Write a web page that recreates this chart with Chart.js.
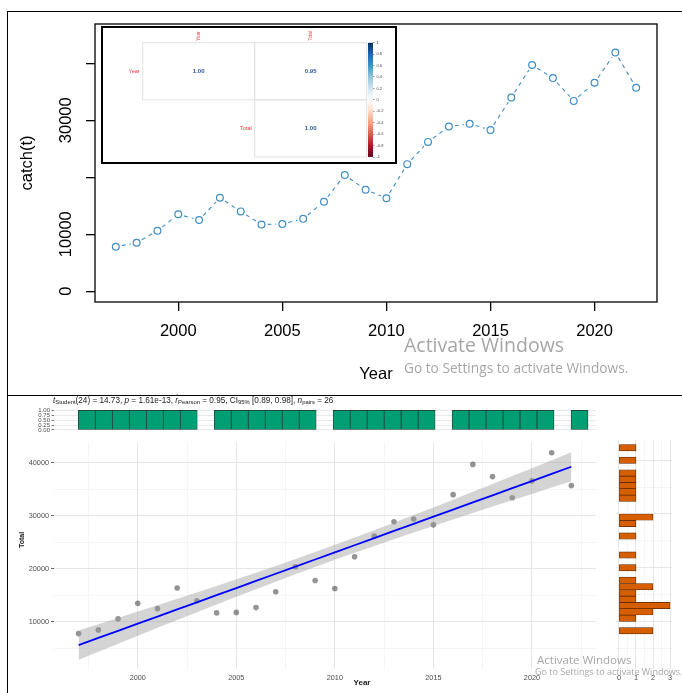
<!DOCTYPE html>
<html><head><meta charset="utf-8">
<script src="https://cdn.jsdelivr.net/npm/chart.js@4"></script>
<style>
html,body{margin:0;padding:0;background:#fff;width:682px;height:693px;overflow:hidden;position:relative;font-family:"Liberation Sans",Arial,sans-serif;}
canvas{position:absolute;}
.abs{position:absolute;}
.wm{position:absolute;white-space:nowrap;font-family:"Open Sans","Noto Sans",sans-serif;color:rgba(110,110,110,0.62);}
#sub{white-space:nowrap;color:#1a1a1a;}
#sub sub{font-size:72%;vertical-align:-1.3px;line-height:0;}
</style></head><body>
<div class="abs" style="left:7px;top:11px;width:675px;height:384px;border-left:1.6px solid #000;border-top:1.6px solid #000;"></div>
<div class="abs" style="left:7px;top:395px;width:675px;height:298px;border-left:1.6px solid #000;border-top:1.6px solid #000;"></div>
<canvas id="c1" width="682" height="395" style="left:0;top:0"></canvas>
<div id="inset" class="abs" style="left:101px;top:26px;width:292px;height:134px;border:2px solid #000;background:#fff;">
  <canvas id="c2" width="292" height="134" style="left:0;top:0"></canvas>
  <canvas id="c3" width="35" height="134" style="left:257px;top:0"></canvas>
</div>
<div class="wm" style="left:404px;top:331px;font-size:19.5px">Activate Windows</div>
<div class="wm" style="left:404px;top:358px;font-size:13.7px">Go to Settings to activate Windows.</div>
<div id="sub" class="abs" style="left:53px;top:395.5px;font-size:8.2px;line-height:10px;"><i>t</i><sub>Student</sub>(24) = 14.73, <i>p</i> = 1.61e-13, <i>r̂</i><sub>Pearson</sub> = 0.95, CI<sub>95%</sub> [0.89, 0.98], <i>n</i><sub>pairs</sub> = 26</div>
<canvas id="c5" width="605" height="36" style="left:0;top:400px"></canvas>
<canvas id="c4" width="605" height="257" style="left:0;top:436px"></canvas>
<canvas id="c6" width="77" height="257" style="left:605px;top:436px"></canvas>
<div class="wm" style="left:537px;top:652px;font-size:11.5px">Activate Windows</div>
<div class="wm" style="left:535px;top:665px;font-size:9px">Go to Settings to activate Windows.</div>
<script>
// ---------------- data ----------------
const years = [1997,1998,1999,2000,2001,2002,2003,2004,2005,2006,2007,2008,2009,2010,2011,2012,2013,2014,2015,2016,2017,2018,2019,2020,2021,2022];
const catchT = [7800,8500,10600,13500,12500,16400,14000,11700,11800,12700,15700,20400,17800,16300,22300,26200,28900,29400,28300,34000,39700,37400,33400,36600,41900,35700];
const topXTicks = [2000,2005,2010,2015,2020];
const topYTicks = [0,10000,20000,30000,40000];
const topYLabels = ['0','10000','','30000',''];
const corrVars = ['Year','Total'];
const corrYear = [1.00,0.95];
const corrTotal = [0.95,1.00];
const cbTicks = [1,0.8,0.6,0.4,0.2,0,-0.2,-0.4,-0.6,-0.8,-1];
const histYTicks = [0,0.25,0.5,0.75,1];
const sideXTicks = [0,0.5,1,1.5,2,2.5,3];
const nBins = 30;
const tCrit = 2.0639; // qt(0.975, 24)

// ---------------- derived ----------------
const n = years.length;
const mx = years.reduce((a,b)=>a+b,0)/n;
const my = catchT.reduce((a,b)=>a+b,0)/n;
let sxx=0, sxy=0;
for(let i=0;i<n;i++){ sxx+=(years[i]-mx)**2; sxy+=(years[i]-mx)*(catchT[i]-my); }
const slope = sxy/sxx, icpt = my - slope*mx;
let sse=0; for(let i=0;i<n;i++){ sse+=(catchT[i]-(icpt+slope*years[i]))**2; }
const sres = Math.sqrt(sse/(n-2));
const fit = years.map(x=>({x, y: icpt+slope*x}));
const hw = years.map(x=> tCrit*sres*Math.sqrt(1/n + (x-mx)**2/sxx));
const lo = years.map((x,i)=>({x, y: fit[i].y - hw[i]}));
const hi = years.map((x,i)=>({x, y: fit[i].y + hw[i]}));

function ggBins(vals, bins){
  const mn=Math.min(...vals), mxv=Math.max(...vals);
  const w=(mxv-mn)/(bins-1), b=w/2;
  const origin = b + Math.floor((mn-b)/w)*w;
  const counts = new Array(bins).fill(0);
  vals.forEach(v=>{ let k=Math.ceil((v-origin)/w)-1; if(k<0)k=0; if(k>=bins)k=bins-1; counts[k]++; });
  return counts.map((c,k)=>({c, mid: origin+(k+0.5)*w}));
}
const xHist = ggBins(years, nBins);
const yHist = ggBins(catchT, nBins);

Chart.defaults.font.family = "'Liberation Sans', Arial, sans-serif";
Chart.defaults.animation = false;
Chart.defaults.plugins.legend.display = false;
Chart.defaults.plugins.tooltip.enabled = false;
const base = {responsive:false, devicePixelRatio:1, animation:false, events:[]};
const setTicks = arr => (s => { s.ticks = arr.map(v=>({value:v})); });

// ---------------- top chart (R base style) ----------------
const ptCol = '#3d8ec4';
new Chart(document.getElementById('c1'), {
  type:'scatter',
  data:{datasets:[
    {data: years.map((x,i)=>({x,y:catchT[i]})), showLine:true, borderColor:ptCol, borderWidth:1.1, borderDash:[4,4], pointRadius:0, order:3,
     segment:{borderDashOffset: c => 2 + 8*c.p0DataIndex}},
    {data: years.map((x,i)=>({x,y:catchT[i]})), showLine:false, pointRadius:6, pointBackgroundColor:'#fff', pointBorderWidth:0, order:2},
    {data: years.map((x,i)=>({x,y:catchT[i]})), showLine:false, pointRadius:3.4, pointBackgroundColor:'rgba(0,0,0,0)', pointBorderColor:ptCol, pointBorderWidth:1.2, order:1}
  ]},
  options:Object.assign({}, base, {
    layout:{padding:{top:24,right:25,bottom:0,left:0}},
    scales:{
      x:{type:'linear', min:1996, max:2023, afterBuildTicks:setTicks(topXTicks),
         afterFit:s=>{s.height=93;},
         grid:{drawOnChartArea:false, drawTicks:true, tickLength:9, color:'#000', lineWidth:1.3},
         border:{display:false},
         ticks:{font:{size:16.5}, color:'#000', padding:11, maxRotation:0, autoSkip:false, callback:v=>String(v)},
         title:{display:true, text:'Year', font:{size:16.5}, color:'#000', padding:{top:0,bottom:11}}},
      y:{type:'linear', min:-1900, max:46900, afterBuildTicks:setTicks(topYTicks),
         afterFit:s=>{s.width=95;},
         grid:{drawOnChartArea:false, drawTicks:true, tickLength:9, color:'#000', lineWidth:1.3},
         border:{display:false},
         ticks:{callback:()=>'' , font:{size:1}},
         title:{display:true, text:'catch(t)', font:{size:16.5}, color:'#000', padding:{top:18,bottom:0}}}
    }
  }),
  plugins:[{id:'rbox', afterDraw(chart){
    const {ctx, chartArea:a, scales:{y}} = chart;
    ctx.save();
    ctx.strokeStyle='#000'; ctx.lineWidth=1.3;
    ctx.strokeRect(a.left, a.top, a.right-a.left, a.bottom-a.top);
    ctx.fillStyle='#000'; ctx.font="16.5px 'Liberation Sans', Arial, sans-serif";
    ctx.textAlign='center'; ctx.textBaseline='middle';
    topYTicks.forEach((v,i)=>{ if(!topYLabels[i]) return;
      ctx.save(); ctx.translate(66, y.getPixelForValue(v)); ctx.rotate(-Math.PI/2);
      ctx.fillText(topYLabels[i],0,0); ctx.restore(); });
    ctx.restore();
  }}]
});

// ---------------- inset correlation matrix ----------------
const corrM = [corrYear, corrTotal];
const cells = [];
for(let i=0;i<corrVars.length;i++) for(let j=i;j<corrVars.length;j++) cells.push({x:j, y:i, v:corrM[i][j]});
new Chart(document.getElementById('c2'), {
  type:'scatter',
  data:{datasets:[{data:cells, pointRadius:0}]},
  options:Object.assign({}, base, {
    layout:{padding:{left:39.7,right:28.3,top:14.7,bottom:5}},
    scales:{x:{display:false,min:-0.5,max:1.5}, y:{display:false,min:-0.5,max:1.5,reverse:true}}
  }),
  plugins:[{id:'corr', afterDraw(chart){
    const {ctx, scales:{x,y}} = chart;
    ctx.save();
    ctx.strokeStyle='#e2e2e2'; ctx.lineWidth=1;
    cells.forEach(c=>{
      const l=x.getPixelForValue(c.x-0.5), r=x.getPixelForValue(c.x+0.5);
      const t=y.getPixelForValue(c.y-0.5), b=y.getPixelForValue(c.y+0.5);
      ctx.strokeRect(l,t,r-l,b-t);
    });
    ctx.textBaseline='middle'; ctx.textAlign='center';
    ctx.fillStyle='#2b5597'; ctx.font="bold 6px 'Liberation Sans', Arial, sans-serif";
    cells.forEach(c=> ctx.fillText(c.v.toFixed(2), x.getPixelForValue(c.x), y.getPixelForValue(c.y)));
    ctx.fillStyle='#ec3b3b'; ctx.font="5.5px 'Liberation Sans', Arial, sans-serif"; ctx.textAlign='right';
    corrVars.forEach((nm,i)=> ctx.fillText(nm, x.getPixelForValue(i-0.5)-3, y.getPixelForValue(i)));
    ctx.font="4.5px 'Liberation Sans', Arial, sans-serif"; ctx.textAlign='left';
    corrVars.forEach((nm,j)=>{ ctx.save(); ctx.translate(x.getPixelForValue(j), y.getPixelForValue(-0.5)-2);
      ctx.rotate(-Math.PI/2); ctx.fillText(nm,0,0); ctx.restore(); });
    ctx.restore();
  }}]
});
const cbColors = ['#053061','#2166AC','#4393C3','#92C5DE','#D1E5F0','#FFFFFF','#FDDBC7','#F4A582','#D6604D','#B2182B','#67001F'];
new Chart(document.getElementById('c3'), {
  type:'bar',
  data:{labels:[''], datasets:[{data:[[-1,1]], barPercentage:1, categoryPercentage:1, borderWidth:0,
    backgroundColor:c=>{ const a=c.chart.chartArea; if(!a) return '#fff';
      const g=c.chart.ctx.createLinearGradient(0,a.top,0,a.bottom);
      cbColors.forEach((col,k)=>g.addColorStop(k/(cbColors.length-1), col)); return g; }}]},
  options:Object.assign({}, base, {
    layout:{padding:{left:8,right:0,top:14.7,bottom:5}},
    scales:{x:{display:false},
      y:{position:'right', min:-1, max:1, afterBuildTicks:setTicks(cbTicks), afterFit:s=>{s.width=22;},
         ticks:{font:{size:4}, color:'#444', padding:2, callback:v=>String(Math.round(v*10)/10)},
         grid:{drawOnChartArea:false, drawTicks:true, tickLength:1.5, color:'#999'}, border:{display:false}}}
  })
});

// ---------------- bottom scatter ----------------
const gMaj='#e3e3e3', gMin='#efefef';
const gridCol = (step)=> c => (c.tick && Math.abs(c.tick.value % step) < 1e-6) ? gMaj : gMin;
const gridW = (step)=> c => (c.tick && Math.abs(c.tick.value % step) < 1e-6) ? 0.9 : 0.6;
const bxTicks = []; for(let v=1997.5; v<=2022.5; v+=2.5) bxTicks.push(v);
const byTicks = []; for(let v=5000; v<=40000; v+=5000) byTicks.push(v);
const tickFont = {size:7.3};
new Chart(document.getElementById('c4'), {
  type:'scatter',
  data:{datasets:[
    {data: years.map((x,i)=>({x,y:catchT[i]})), pointRadius:2.8, pointBackgroundColor:'rgba(0,0,0,0.42)', pointBorderWidth:0, order:4},
    {data: lo, showLine:true, borderWidth:0, pointRadius:0, order:3},
    {data: hi, showLine:true, borderWidth:0, pointRadius:0, fill:1, backgroundColor:'rgba(153,153,153,0.42)', order:2},
    {data: fit, showLine:true, borderColor:'#0000ff', borderWidth:1.8, pointRadius:0, order:1}
  ]},
  options:Object.assign({}, base, {
    layout:{padding:{top:3.5,right:9,bottom:0,left:0}},
    scales:{
      x:{type:'linear', min:1995.75, max:2023.25, afterBuildTicks:setTicks(bxTicks), afterFit:s=>{s.height=23.6;},
         grid:{color:gridCol(5), lineWidth:gridW(5), drawTicks:false}, border:{display:false},
         ticks:{font:tickFont, color:'#4d4d4d', padding:4, maxRotation:0, autoSkip:false, callback:v=> v%5===0 ? String(v) : ''}},
      y:{type:'linear', min:1050, max:43850, afterBuildTicks:setTicks(byTicks), afterFit:s=>{s.width=54;},
         grid:{color:gridCol(10000), lineWidth:gridW(10000), drawTicks:true, tickLength:3,
               tickColor:c=>(c.tick && c.tick.value%10000===0)?'#555':'rgba(0,0,0,0)'}, border:{display:false},
         ticks:{font:tickFont, color:'#4d4d4d', padding:2, autoSkip:false, callback:v=> v%10000===0 ? String(v) : ''}}
    }
  }),
  plugins:[{id:'titles', afterDraw(chart){
    const ctx=chart.ctx; ctx.save(); ctx.fillStyle='#1a1a1a'; ctx.textAlign='center'; ctx.textBaseline='middle';
    ctx.font="bold 8px 'Liberation Sans', Arial, sans-serif"; ctx.fillText('Year', 362, 247);
    ctx.font="bold 7px 'Liberation Sans', Arial, sans-serif";
    ctx.translate(22,104); ctx.rotate(-Math.PI/2); ctx.fillText('Total',0,0); ctx.restore();
  }}]
});

// ---------------- top marginal histogram ----------------
new Chart(document.getElementById('c5'), {
  type:'bar',
  data:{datasets:[{data: xHist.map(b=>({x:b.mid, y:b.c})), backgroundColor:'#009E73', borderColor:'#2b2b2b', borderWidth:0.7,
    borderSkipped:false, barPercentage:1, categoryPercentage:1}]},
  options:Object.assign({}, base, {
    layout:{padding:{top:9.3,right:9,bottom:0,left:0}},
    scales:{
      x:{type:'linear', offset:false, min:1995.75, max:2023.25, afterBuildTicks:setTicks(bxTicks), afterFit:s=>{s.height=3.6;},
         grid:{offset:false, color:gridCol(5), lineWidth:gridW(5), drawTicks:false}, border:{display:false},
         ticks:{display:false}},
      y:{type:'linear', min:-0.05, max:1.05, afterBuildTicks:setTicks(histYTicks), afterFit:s=>{s.width=54;},
         grid:{color:gMaj, lineWidth:0.8, drawTicks:true, tickLength:2.5, tickColor:'#555'}, border:{display:false},
         ticks:{font:{size:6}, color:'#4d4d4d', padding:1.5, autoSkip:false, callback:v=>v.toFixed(2)}}
    }
  })
});

// ---------------- right marginal histogram ----------------
new Chart(document.getElementById('c6'), {
  type:'bar',
  data:{datasets:[{data: yHist.map(b=>({y:b.mid, x:b.c})), backgroundColor:'#D55E00', borderColor:'#5a2600', borderWidth:0.7,
    borderSkipped:false, barPercentage:1, categoryPercentage:1}]},
  options:Object.assign({}, base, {
    indexAxis:'y',
    layout:{padding:{top:3.5,right:9.4,bottom:0,left:11.4}},
    scales:{
      y:{type:'linear', offset:false, min:1050, max:43850, afterBuildTicks:setTicks(byTicks), afterFit:s=>{s.width=0;},
         grid:{offset:false, color:gridCol(10000), lineWidth:gridW(10000), drawTicks:false}, border:{display:false},
         ticks:{display:false}},
      x:{type:'linear', min:-0.15, max:3.15, afterBuildTicks:setTicks(sideXTicks), afterFit:s=>{s.height=23.6;},
         grid:{color:gridCol(1), lineWidth:gridW(1), drawTicks:false}, border:{display:false},
         ticks:{font:tickFont, color:'#4d4d4d', padding:4, maxRotation:0, autoSkip:false, callback:v=> Number.isInteger(v) ? String(v) : ''}}
    }
  })
});
</script>
</body></html>
